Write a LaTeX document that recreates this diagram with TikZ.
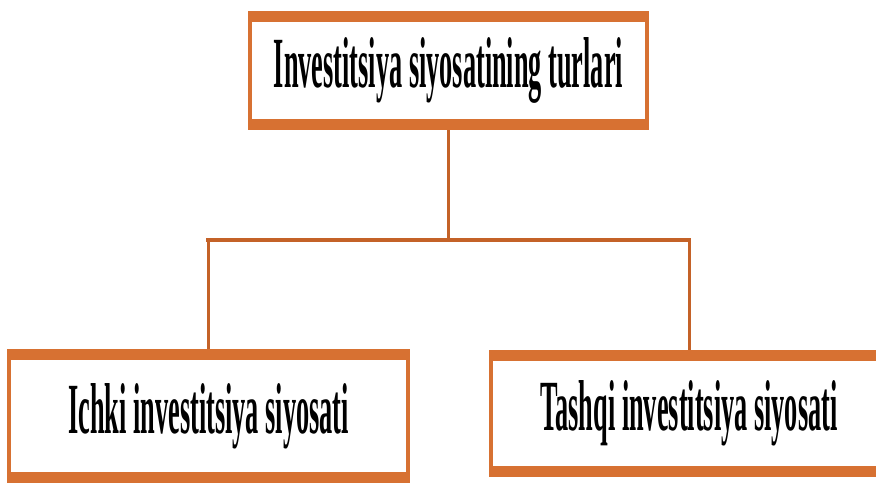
\documentclass[tikz,border=0pt]{standalone}
\usepackage{fontspec}
\setmainfont{Liberation Serif}
\usepackage{graphicx}
\usetikzlibrary{positioning}
\definecolor{boxorange}{RGB}{215,113,50}
\definecolor{linkorange}{RGB}{196,98,40}
\newcommand{\narrow}[1]{\scalebox{0.365}[1]{#1}}

\begin{document}
\begin{tikzpicture}
  [
    typebox/.style = {draw = boxorange, line width = 2.3pt, fill = white,
      inner sep = 0pt, font = \fontsize{41}{41}\selectfont\bfseries,
      path picture = {
        \fill[boxorange] (path picture bounding box.north west)
          rectangle ([yshift=-0.18cm] path picture bounding box.north east);
        \fill[boxorange] (path picture bounding box.south west)
          rectangle ([yshift=0.18cm] path picture bounding box.south east);
      }},
    link/.style = {draw = linkorange, line width = 1.7pt},
    bus/.style = {draw = linkorange, line width = 2.8pt, line cap = rect}
  ]
  \useasboundingbox (0,0) rectangle (17.52,-9.66);

  \node[typebox, minimum width = 7.94cm, minimum height = 2.30cm]
    (turlari) at (8.97,-1.41) {\narrow{Investitsiya siyosatining turlari}};
  \node[typebox, minimum width = 7.98cm, minimum height = 2.60cm]
    (ichki) at (4.17,-8.32) {\narrow{Ichki investitsiya siyosati}};
  \node[typebox, minimum width = 7.92cm, minimum height = 2.46cm]
    (tashqi) at (13.78,-8.27) {\narrow{Tashqi investitsiya siyosati}};

  % fork between the levels
  \path (turlari.south) ++(0,-2.20) coordinate (fork);
  \draw[link] (turlari.south) -- (fork);
  \draw[link] (ichki.north) -- (ichki.north |- fork);
  \draw[link] (tashqi.north) -- (tashqi.north |- fork);
  \draw[bus] (ichki.north |- fork) -- (tashqi.north |- fork);
\end{tikzpicture}
\end{document}
